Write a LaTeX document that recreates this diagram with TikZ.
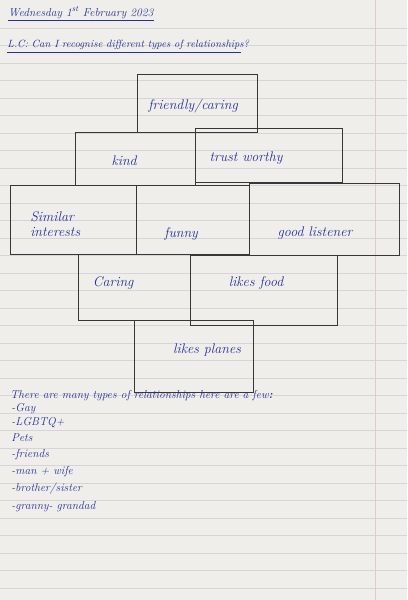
\documentclass[tikz,border=0pt]{standalone}
\usetikzlibrary{positioning}
\definecolor{paper}{RGB}{239,238,234}
\definecolor{rule}{RGB}{212,212,217}
\definecolor{margin}{RGB}{220,204,208}
\definecolor{ink}{RGB}{38,48,150}
\definecolor{pencil}{RGB}{55,55,55}
\tikzset{
  brick/.style={draw=pencil, line width=0.9pt, inner sep=0pt},
  hand/.style={text=ink, font=\fontsize{14}{15}\selectfont\itshape, inner sep=1pt},
  note/.style={text=ink, anchor=base west, inner sep=0pt, font=\fontsize{11.5}{12}\selectfont\itshape},
  underline/.style={draw=ink, line width=0.8pt}
}
\begin{document}
\begin{tikzpicture}[x=1pt,y=-1pt]
% page and ruling
\fill[paper] (0,0) rectangle (407,600);
\foreach \y in {28,45.5,...,596}
  \draw[rule, line width=0.5pt] (0,\y) -- (407,\y);
\draw[margin, line width=0.5pt] (375,0) -- (375,600);

% heading
\node[note] (date) at (8,16) {Wednesday 1\textsuperscript{st} February 2023};
\draw[underline] ([yshift=-4pt]date.base west) -- ([yshift=-4pt]date.base east);
\node[note, font=\fontsize{10.5}{12}\selectfont\itshape] (lc) at (7,47) {L.C: Can I recognise different types of relationships?};
\draw[underline] ([yshift=-5pt]lc.base west) -- ([yshift=-5pt,xshift=-8pt]lc.base east);

% the wall of bricks
\node[brick, minimum width=120, minimum height=58] (friendly) at (197,103) {};
\node[brick, minimum width=120, minimum height=53] (kind) at (135,158.5) {};
\node[brick, minimum width=147, minimum height=54] (trust) at (268.5,155) {};
\node[brick, minimum width=126, minimum height=69] (similar) at (73,219.5) {};
\node[brick, minimum width=113, minimum height=69] (funny) at (192.5,219.5) {};
\node[brick, minimum width=151, minimum height=72] (listener) at (324.5,219) {};
\node[brick, minimum width=112, minimum height=66] (caring) at (134,287) {};
\node[brick, minimum width=147, minimum height=70] (food) at (263.5,290) {};
\node[brick, minimum width=119, minimum height=73] (planes) at (193.5,356.5) {};

% what is written in them
\node[hand] (friendlytxt) at (193,106) {friendly/caring};
\node[hand] (kindtxt) at (124,161) {kind};
\node[hand] (trusttxt) at (246,158) {trust worthy};
\node[hand, align=left] (similartxt) at (55,224) {Similar\\ interests};
\node[hand] (funnytxt) at (181,234) {funny};
\node[hand] (listenertxt) at (315,233) {good listener};
\node[hand] (caringtxt) at (113,283) {Caring};
\node[hand] (foodtxt) at (256,283) {likes food};
\node[hand] (planestxt) at (207,350) {likes planes};

% list underneath
\node[note] (intro) at (10,399) {There are many types of relationships here are a few\textbf{:}};
\foreach \i/\y/\t in {1/412/-Gay, 2/426/-LGBTQ+, 3/442/Pets, 4/458/-friends,
    5/475/-man + wife, 6/492/{-brother/sister}, 7/510/-granny- grandad}
  \node[note] (item\i) at (11,\y) {\t};
\end{tikzpicture}
\end{document}
